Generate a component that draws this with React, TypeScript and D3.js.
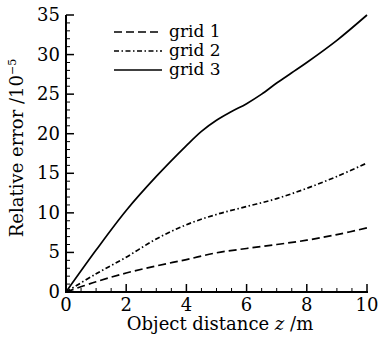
import React from "react";
import * as d3 from "d3";

const xValues1 = [0, 1, 2, 3, 4, 5, 6, 7, 8, 9, 10];
const grid1 = [0, 1.3, 2.4, 3.3, 4.1, 4.95, 5.5, 6.0, 6.55, 7.25, 8.1];
const xValues2 = [0, 1, 2, 3, 4, 5, 6, 7, 8, 9, 10];
const grid2 = [0, 2.3, 4.4, 6.7, 8.5, 9.8, 10.8, 11.8, 13.1, 14.6, 16.3];
const xValues3 = [0, 1, 2, 3, 4, 4.5, 5, 5.5, 6, 6.5, 7, 7.5, 8, 9, 10];
const grid3 = [0, 5.3, 10.3, 14.6, 18.5, 20.3, 21.7, 22.8, 23.8, 25.0, 26.4, 27.7, 29.0, 31.8, 35];
const xTicks = [0, 2, 4, 6, 8, 10];
const yTicks = [0, 5, 10, 15, 20, 25, 30, 35];
const seriesNames = ["grid 1", "grid 2", "grid 3"];

const W = 383;
const H = 338;
const FONT = "'DejaVu Serif', serif";

export default function App() {
  const x = d3.scaleLinear().domain([0, 10]).range([66, 367]);
  const y = d3.scaleLinear().domain([0, 35]).range([292, 15]);
  const line = d3
    .line<[number, number]>()
    .x((d) => x(d[0]))
    .y((d) => y(d[1]))
    .curve(d3.curveCatmullRom.alpha(0.5));

  const series = [
    { name: seriesNames[0], xs: xValues1, ys: grid1, dash: "8,4" },
    { name: seriesNames[1], xs: xValues2, ys: grid2, dash: "5,2.5,1.5,2.5" },
    { name: seriesNames[2], xs: xValues3, ys: grid3, dash: "" },
  ];

  const xMinor = d3.range(0, 10.001, 0.5).filter((v) => Math.abs(v % 2) > 1e-6);
  const yMinor = d3.range(0, 35.001, 1).filter((v) => v % 5 !== 0);

  return (
    <svg
      width={W}
      height={H}
      style={{ position: "absolute", left: 0, top: 0, background: "#fff" }}
    >
      <rect width={W} height={H} fill="#fff" />
      {series.map((s) => (
        <path
          key={s.name}
          d={line(s.xs.map((v, i) => [v, s.ys[i]] as [number, number])) || ""}
          fill="none"
          stroke="#000"
          strokeWidth={1.7}
          strokeDasharray={s.dash || undefined}
        />
      ))}
      {/* axes */}
      <line x1={x(0)} x2={x(0)} y1={y(35)} y2={y(0)} stroke="#000" strokeWidth={2} />
      <line x1={x(0) - 1} x2={x(10) + 1} y1={y(0)} y2={y(0)} stroke="#000" strokeWidth={2} />
      {xTicks.map((t) => (
        <g key={"xt" + t}>
          <line x1={x(t)} x2={x(t)} y1={y(0)} y2={y(0) - 8} stroke="#000" strokeWidth={1.5} />
          <text x={x(t)} y={311} textAnchor="middle" fontFamily={FONT} fontSize={18}>
            {t}
          </text>
        </g>
      ))}
      {xMinor.map((t) => (
        <line key={"xm" + t} x1={x(t)} x2={x(t)} y1={y(0)} y2={y(0) - 4} stroke="#000" strokeWidth={1} />
      ))}
      {yTicks.map((t) => (
        <g key={"yt" + t}>
          <line x1={x(0)} x2={x(0) + 8} y1={y(t)} y2={y(t)} stroke="#000" strokeWidth={1.5} />
          <text x={60} y={y(t) + 6} textAnchor="end" fontFamily={FONT} fontSize={18}>
            {t}
          </text>
        </g>
      ))}
      {yMinor.map((t) => (
        <line key={"ym" + t} x1={x(0)} x2={x(0) + 4} y1={y(t)} y2={y(t)} stroke="#000" strokeWidth={1} />
      ))}
      {/* axis labels */}
      <text x={220} y={330} textAnchor="middle" fontFamily={FONT} fontSize={18}>
        Object distance <tspan fontStyle="italic">z</tspan> /m
      </text>
      <text
        transform={`translate(23,148) rotate(-90)`}
        textAnchor="middle"
        fontFamily={FONT}
        fontSize={18}
      >
        Relative error /10
        <tspan dy={-7} fontSize={11}>−5</tspan>
      </text>
      {/* legend */}
      {series.map((s, i) => (
        <g key={"lg" + s.name}>
          <line
            x1={114}
            x2={162}
            y1={32 + i * 19}
            y2={32 + i * 19}
            stroke="#000"
            strokeWidth={1.7}
            strokeDasharray={s.dash || undefined}
          />
          <text x={169} y={32 + i * 19 + 5} fontFamily={FONT} fontSize={17}>
            {s.name}
          </text>
        </g>
      ))}
    </svg>
  );
}
